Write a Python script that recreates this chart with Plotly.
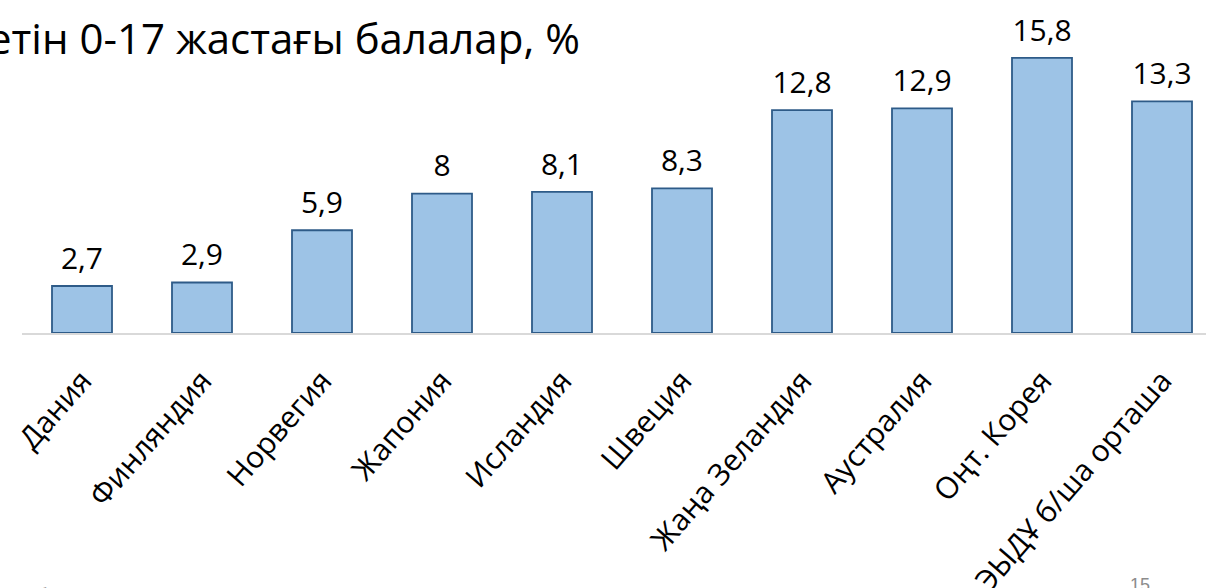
import plotly.graph_objects as go

categories = ["Дания", "Финляндия", "Норвегия", "Жапония", "Исландия", "Швеция",
              "Жаңа Зеландия", "Аустралия", "Оңт. Корея", "ЭЫДҰ б/ша орташа"]
values = [2.7, 2.9, 5.9, 8.0, 8.1, 8.3, 12.8, 12.9, 15.8, 13.3]
title_text = "етін 0-17 жастағы балалар, %"
footnote_text = "ілікті бағалау жөніндегі деректер, 2013, OECD Family Database, PF2.1, Ресми статистика"
page_number = "15"

W, H = 1206, 588
L, T, B = 22, 0, 255
PW = W - L
PH = H - T - B

def px_x(px):
    return (px - L) / PW

def px_y(py):
    return 1 - (py - T) / PH

FONT = "Open Sans"
CAT_PX = 120.0  # bar slot width in pixels

fig = go.Figure()
fig.add_trace(go.Bar(
    x=categories,
    y=values,
    marker=dict(color="#9DC3E6", line=dict(color="#2E5B88", width=1.8)),
    width=0.5,
    hoverinfo="skip",
))
fig.add_trace(go.Scatter(
    x=categories,
    y=values,
    mode="markers+text",
    marker=dict(size=14, opacity=0),
    text=[f"{v:g}".replace(".", ",") for v in values],
    textposition="top center",
    textfont=dict(family=FONT, size=30, color="#000000"),
    cliponaxis=False,
    hoverinfo="skip",
))

fig.update_layout(
    width=W, height=H,
    margin=dict(l=L, r=0, t=T, b=B, pad=0, autoexpand=False),
    paper_bgcolor="white", plot_bgcolor="white",
    showlegend=False,
    font=dict(family=FONT, color="#000000"),
    xaxis=dict(
        range=[-0.5, -0.5 + PW / CAT_PX],
        automargin=False,
        showgrid=False, zeroline=False,
        showline=True, linecolor="#D9D9D9", linewidth=2,
        tickangle=-49, tickfont=dict(family=FONT, size=30, color="#000000"),
        ticks="", ticklabelstandoff=16, ticklabeloverflow="allow",
    ),
    yaxis=dict(range=[0, 19.12], visible=False, automargin=False),
    annotations=[
        dict(text=title_text, xref="paper", yref="paper", x=px_x(582), y=px_y(38),
             xanchor="right", yanchor="middle", showarrow=False,
             font=dict(family=FONT, size=42, color="#000000")),
        dict(text=footnote_text, xref="paper", yref="paper", x=px_x(0), y=px_y(593),
             xanchor="left", yanchor="middle", showarrow=False,
             font=dict(family="Liberation Sans", size=15, color="#000000")),
        dict(text=page_number, xref="paper", yref="paper", x=px_x(1140), y=px_y(585),
             xanchor="center", yanchor="middle", showarrow=False,
             font=dict(family="Liberation Sans", size=18, color="#8C8C8C")),
    ],
)

fig.write_html("out.html", config={"displayModeBar": False},
               post_script="document.body.style.margin='0';")
